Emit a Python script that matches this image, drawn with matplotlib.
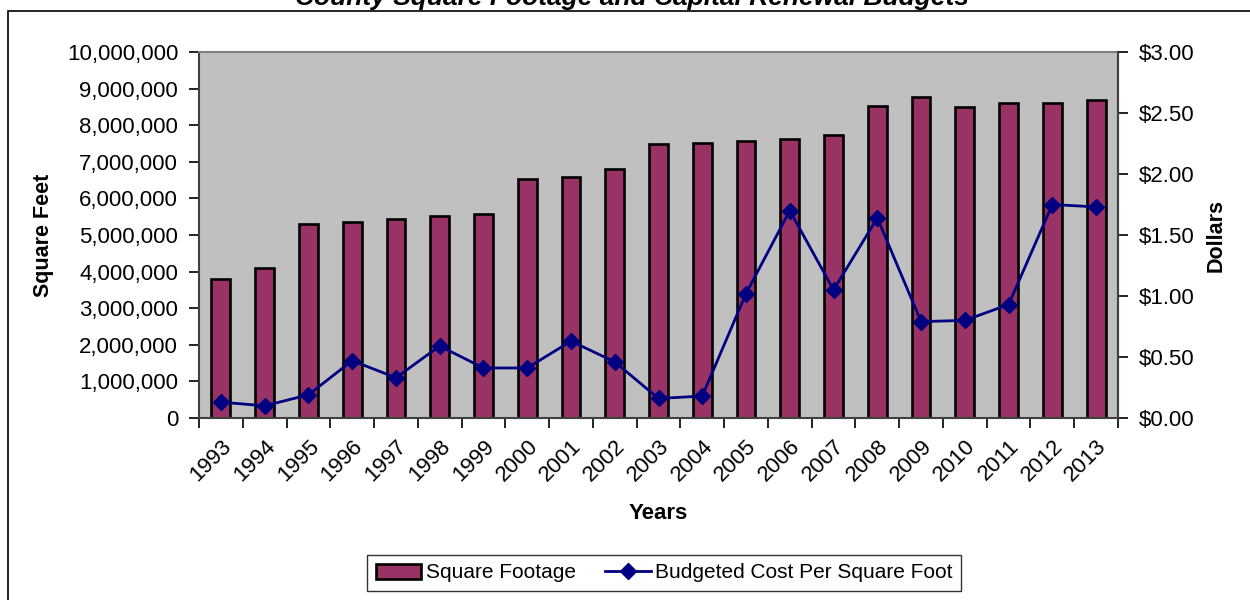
import matplotlib
matplotlib.use("Agg")
import matplotlib.pyplot as plt
from matplotlib.patches import Rectangle
from matplotlib.ticker import FuncFormatter, MultipleLocator, FixedLocator
import numpy as np

plt.rcParams['font.family'] = ['Liberation Sans', 'DejaVu Sans']

years = ['1993', '1994', '1995', '1996', '1997', '1998', '1999', '2000', '2001', '2002',
         '2003', '2004', '2005', '2006', '2007', '2008', '2009', '2010', '2011', '2012', '2013']
square_footage = [3790000, 4110000, 5310000, 5360000, 5450000, 5510000, 5570000, 6530000,
                  6590000, 6800000, 7490000, 7520000, 7580000, 7610000, 7720000, 8530000,
                  8770000, 8500000, 8620000, 8620000, 8680000]
cost_per_sqft = [0.13, 0.10, 0.19, 0.47, 0.33, 0.59, 0.41, 0.41, 0.63, 0.46, 0.16,
                 0.18, 1.02, 1.70, 1.05, 1.64, 0.79, 0.80, 0.93, 1.75, 1.73]

W, H = 1250, 600
fig = plt.figure(figsize=(12.5, 6), dpi=100)
fig.patch.set_facecolor('white')

# outer chart border
fig.add_artist(Rectangle((8 / W, -0.02), 1.1, (H - 11) / H + 0.02, transform=fig.transFigure,
                         fill=False, edgecolor='black', linewidth=1.2))

ax = fig.add_axes([199 / W, 1 - 418 / H, (1118 - 199) / W, (418 - 52) / H])
ax.set_facecolor('#C0C0C0')
x = np.arange(len(years))

bars = ax.bar(x, square_footage, width=0.43, color='#993366', edgecolor='black',
              linewidth=1.9, label='Square Footage', zorder=2)
ax.set_xlim(-0.5, len(years) - 0.5)
ax.set_ylim(0, 10000000)
ax.yaxis.set_major_locator(MultipleLocator(1000000))
ax.yaxis.set_major_formatter(FuncFormatter(lambda v, p: f"{int(v):,}"))
ax.set_xticks(x)
ax.set_xticklabels(years, rotation=45, ha='right', va='top', rotation_mode='anchor')
ax.xaxis.set_minor_locator(FixedLocator(np.arange(-0.5, len(years), 1.0)))
ax.tick_params(axis='x', which='major', length=0, pad=13, labelsize=16)
ax.tick_params(axis='x', which='minor', length=7, width=1.2, direction='out', color='black')
ax.tick_params(axis='y', length=7, width=1.2, direction='out', labelsize=16, pad=8)
for s in ['top', 'right']:
    ax.spines[s].set_color('#808080')
    ax.spines[s].set_linewidth(1.5)
ax.spines['left'].set_color('#404040')
ax.spines['bottom'].set_color('#404040')
ax.spines['left'].set_linewidth(1.5)
ax.spines['bottom'].set_linewidth(1.5)
ax.set_ylabel('Square Feet', fontsize=15.5, fontweight='bold', labelpad=9)
ax.set_xlabel('Years', fontsize=16, fontweight='bold', labelpad=12)

ax2 = ax.twinx()
line, = ax2.plot(x, cost_per_sqft, color='#000080', linewidth=2, marker='D', markersize=8,
                 label='Budgeted Cost Per Square Foot', zorder=3)
ax2.set_ylim(0, 3.0)
ax2.yaxis.set_major_locator(MultipleLocator(0.5))
ax2.yaxis.set_major_formatter(FuncFormatter(lambda v, p: f"${v:.2f}"))
ax2.tick_params(axis='y', length=7, width=1.2, direction='out', labelsize=16, pad=8)
for s in ['top', 'left', 'bottom']:
    ax2.spines[s].set_visible(False)
ax2.spines['right'].set_color('#404040')
ax2.spines['right'].set_linewidth(1.5)
ax2.set_ylabel('Dollars', fontsize=15.5, fontweight='bold', labelpad=8)

fig.text(632 / W, 1 - 5 / H, 'County Square Footage and Capital Renewal Budgets',
         ha='center', va='baseline', fontsize=19, fontweight='bold', fontstyle='italic')

leg = fig.legend([bars, line], ['Square Footage', 'Budgeted Cost Per Square Foot'],
                 loc='center', bbox_to_anchor=(664 / W, 1 - 573 / H), ncol=2,
                 fontsize=15, frameon=True, fancybox=False, edgecolor='black',
                 handlelength=2.2, handletextpad=0.2, columnspacing=1.4,
                 borderpad=0.4)
leg.get_frame().set_linewidth(1.0)

fig.savefig('out.png', dpi=100, facecolor='white')
